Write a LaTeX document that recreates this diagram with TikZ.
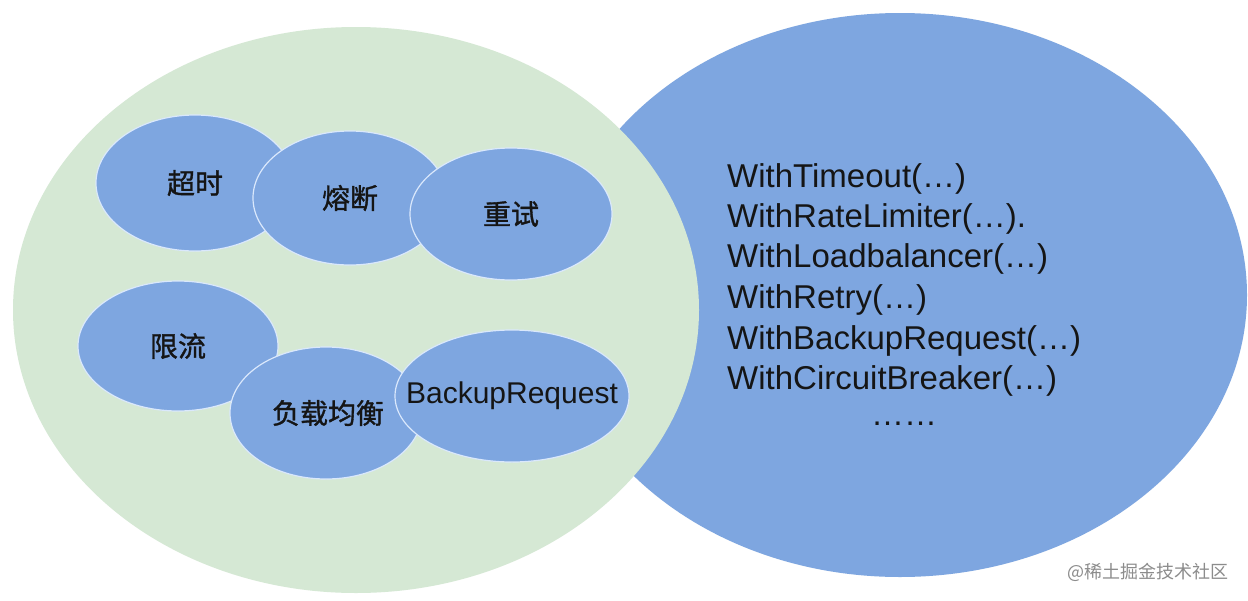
\documentclass[tikz,border=0pt]{standalone}
\usepackage{fontspec}
\setmainfont{Liberation Sans}
\newfontfamily\cjk{Noto Sans CJK SC}
\newfontfamily\cjkheavy[FakeBold=1.2]{Noto Sans CJK SC}
\usetikzlibrary{shapes.geometric}
\definecolor{bigblue}{HTML}{7EA6E0}
\definecolor{biggreen}{HTML}{D5E8D4}
\definecolor{rimcol}{HTML}{DAE8FC}
\definecolor{inkcol}{HTML}{151515}
\begin{document}
\begin{tikzpicture}[x=1pt,y=-1pt,
  bigoval/.style={ellipse, inner sep=0pt},
  smalloval/.style={ellipse, inner sep=0pt, fill=bigblue, draw=rimcol, line width=1.2pt},
  ovaltext/.style={inner sep=0pt, font=\cjkheavy\fontsize{28}{30}\selectfont, text=inkcol},
  apiline/.style={anchor=base west, inner sep=0pt, font=\fontsize{33}{36}\selectfont, text=inkcol}]
\useasboundingbox[fill=white] (0,0) rectangle (1248,600);
% big shapes
\node[bigoval, fill=bigblue, minimum width=694pt, minimum height=564pt] (api) at (900,295) {};
\node[bigoval, fill=biggreen, minimum width=686pt, minimum height=566pt] (feat) at (356,310) {};
% small ovals
\node[smalloval, minimum width=198pt, minimum height=136pt] (timeout) at (195,183) {};
\node[ovaltext] (timeoutt) at (timeout) {超时};
\node[smalloval, minimum width=194pt, minimum height=134pt] (breaker) at (350,198) {};
\node[ovaltext] (breakert) at (breaker) {熔断};
\node[smalloval, minimum width=202pt, minimum height=132pt] (retry) at (511,214) {};
\node[ovaltext] (retryt) at (retry) {重试};
\node[smalloval, minimum width=200pt, minimum height=130pt] (limit) at (178,346) {};
\node[ovaltext] (limitt) at (limit) {限流};
\node[smalloval, minimum width=192pt, minimum height=132pt] (lb) at (326,413) {};
\node[ovaltext] (lbt) at ([xshift=2pt]lb.center) {负载均衡};
\node[smalloval, minimum width=234pt, minimum height=132pt] (backup) at (512,396) {};
\node[ovaltext, font=\fontsize{30}{32}\selectfont] (backupt) at (backup) {BackupRequest};
% api list
\node[apiline] (l1) at (727,187) {WithTimeout(…)};
\node[apiline] (l2) at (727,227) {WithRateLimiter(…).};
\node[apiline] (l3) at (727,267) {WithLoadbalancer(…)};
\node[apiline] (l4) at (727,308) {WithRetry(…)};
\node[apiline] (l5) at (727,349) {WithBackupRequest(…)};
\node[apiline] (l6) at (727,389) {WithCircuitBreaker(…)};
\node[apiline, anchor=base] (more) at (904,425) {……};
% watermark
\node[font=\cjk\fontsize{18}{20}\selectfont, text=black!45, inner sep=0pt] (mark) at (1148,572) {@稀土掘金技术社区};
\end{tikzpicture}
\end{document}
